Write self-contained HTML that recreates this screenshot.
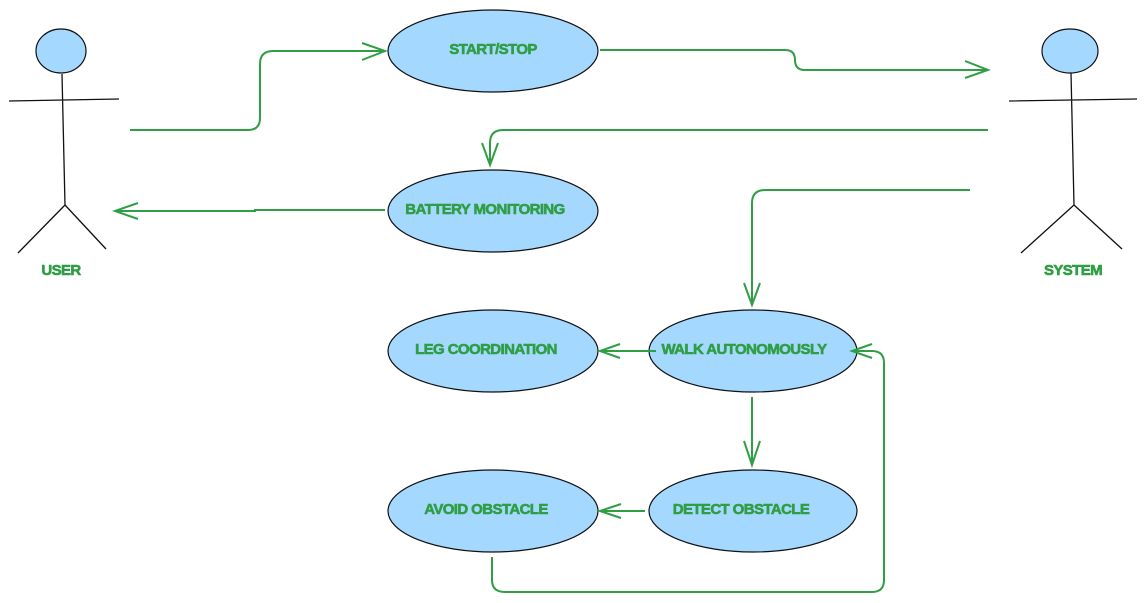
<!DOCTYPE html>
<html><head><meta charset="utf-8"><style>
html,body{margin:0;padding:0;background:#fff;}
svg{display:block;}
text{font-family:"Liberation Sans",sans-serif;font-weight:bold;font-size:15px;fill:#2f9e44;stroke:#2f9e44;stroke-width:0.6;text-anchor:middle;dominant-baseline:middle;letter-spacing:-0.6px;}
.c{fill:none;stroke:#2f9e44;stroke-width:2;}
.a{fill:none;stroke:#2f9e44;stroke-width:2;}
.e{fill:#a5d8ff;stroke:#111;stroke-width:1.2;}
.k{stroke:#111;stroke-width:1.3;fill:none;}
</style></head><body>
<svg width="1146" height="603" viewBox="0 0 1146 603">
<ellipse class="e" cx="61" cy="51" rx="25" ry="22"/>
<path class="k" d="M62 74 L65 205 M9 101 L119 99 M65 205 L18 253 M65 205 L106 249"/>
<text x="61" y="271">USER</text>
<ellipse class="e" cx="1070" cy="51" rx="28" ry="22"/>
<path class="k" d="M1071 73 L1074 205 M1009 101 L1137 99 M1074 205 L1021 253 M1074 205 L1122 249"/>
<text x="1073" y="271">SYSTEM</text>
<ellipse class="e" cx="493" cy="51" rx="105" ry="41"/>
<text x="493" y="50">START/STOP</text>
<ellipse class="e" cx="493" cy="211" rx="105" ry="41"/>
<text x="485" y="210">BATTERY MONITORING</text>
<ellipse class="e" cx="493" cy="351" rx="105" ry="41"/>
<text x="486" y="350">LEG COORDINATION</text>
<ellipse class="e" cx="753" cy="351" rx="104" ry="41"/>
<text x="744" y="350">WALK AUTONOMOUSLY</text>
<ellipse class="e" cx="493" cy="511" rx="105" ry="41"/>
<text x="486" y="510">AVOID OBSTACLE</text>
<ellipse class="e" cx="753" cy="511" rx="104" ry="41"/>
<text x="741" y="510">DETECT OBSTACLE</text>
<path class="c" d="M130 130 L248 130 Q260 130 260 118 L260 64 Q260 51 273 51 L385 51"/>
<path class="a" d="M362 43 L385 51 L362 60"/>
<path class="c" d="M600 50 L785 50 Q795 50 795 60 Q795 70 805 70 L988 70"/>
<path class="a" d="M965 61 L988 70 L965 78"/>
<path class="c" d="M988 130 L503 130 Q490 130 490 143 L490 165"/>
<path class="a" d="M482 143 L490 165 L498 143"/>
<path class="c" d="M385 210 L255 210 L255 211 L115 211"/>
<path class="a" d="M138 203 L115 211 L138 219"/>
<path class="c" d="M970 190 L765 190 Q752 190 752 203 L752 305"/>
<path class="a" d="M744 283 L752 305 L760 283"/>
<path class="c" d="M656 351 L600 351"/>
<path class="a" d="M620 344 L600 351 L620 358"/>
<path class="c" d="M752 397 L752 465"/>
<path class="a" d="M744 441 L752 465 L760 441"/>
<path class="c" d="M645 511 L600 511"/>
<path class="a" d="M621 504 L600 511 L621 518"/>
<path class="c" d="M492 557 L492 580 Q492 592 505 592 L872 592 Q884 592 884 580 L884 363 Q884 351 872 351 L852 351"/>
<path class="a" d="M872 344 L852 351 L872 358"/>
</svg>
</body></html>
